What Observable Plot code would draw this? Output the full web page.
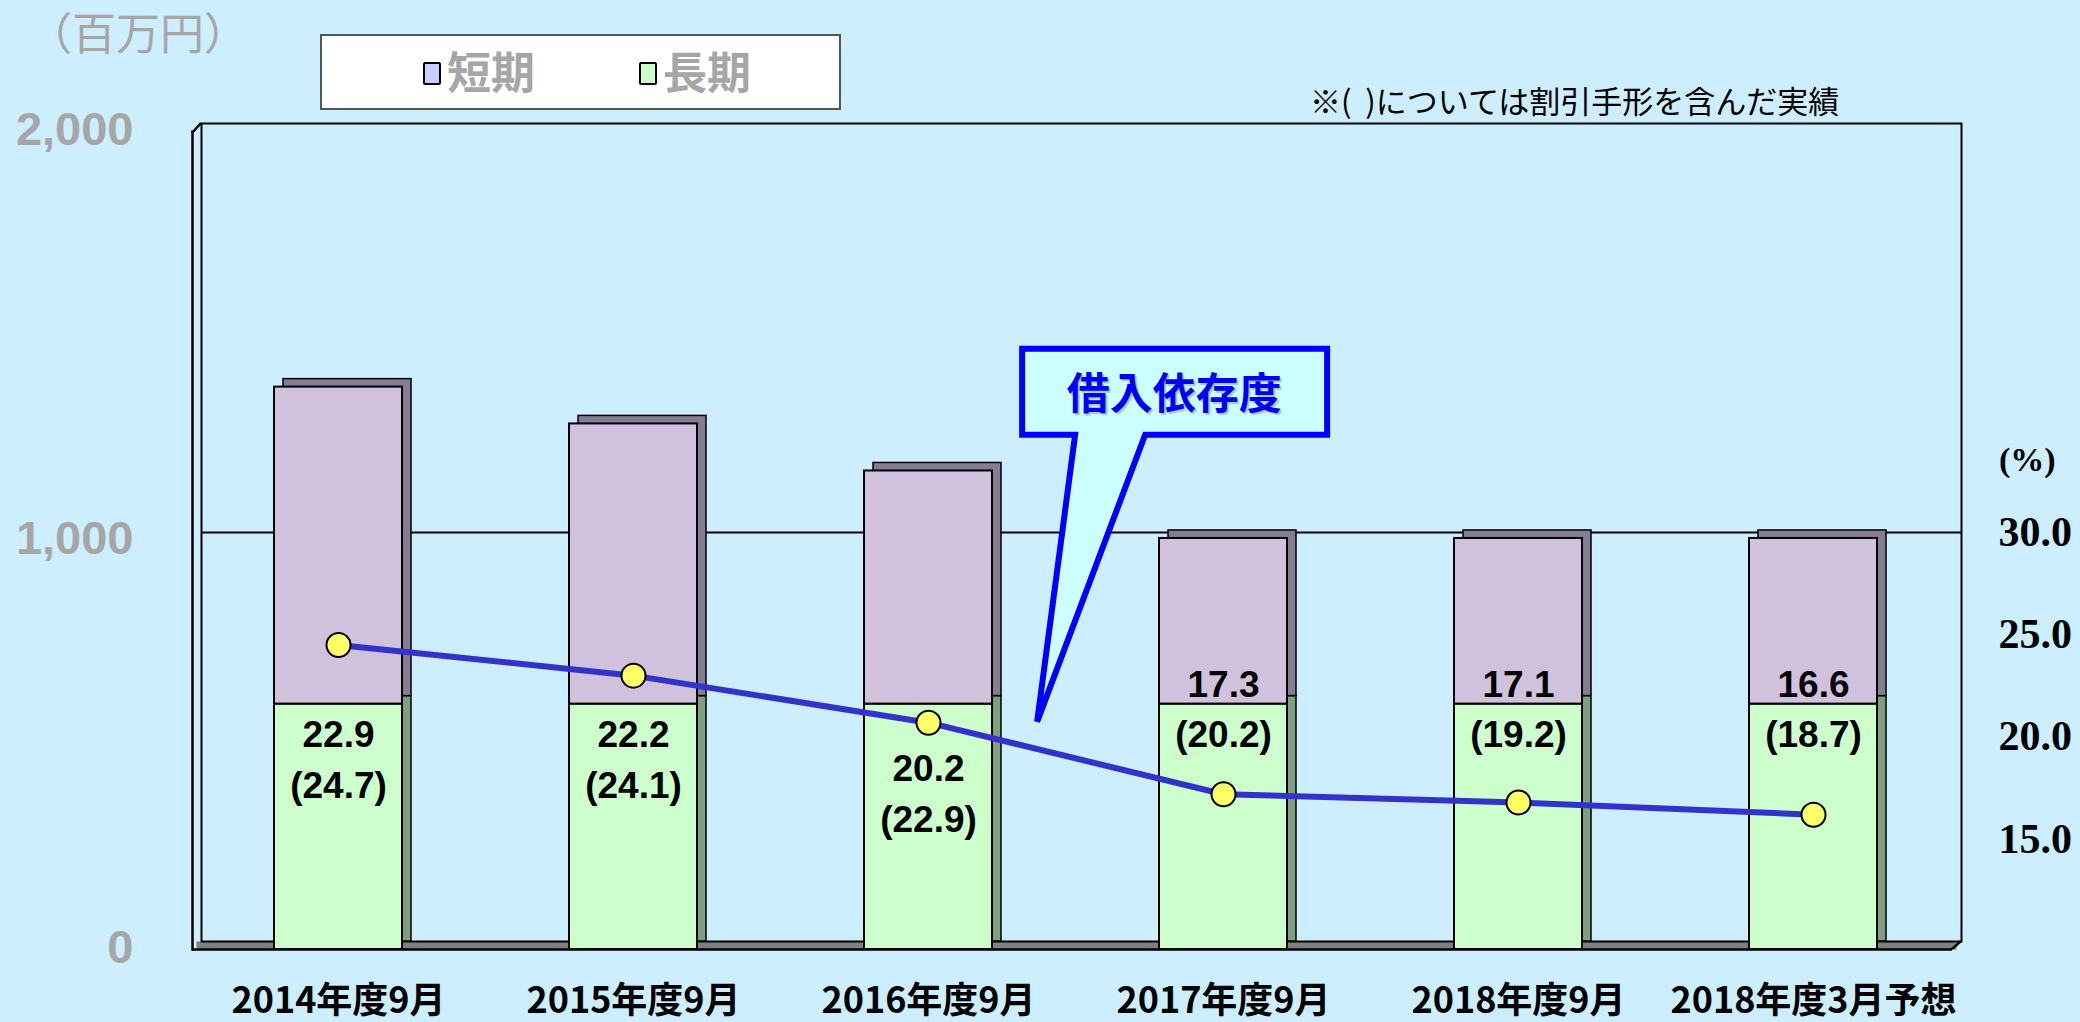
<!DOCTYPE html>
<html><head><meta charset="utf-8">
<script src="https://cdn.jsdelivr.net/npm/d3@7"></script>
<script src="https://cdn.jsdelivr.net/npm/@observablehq/plot@0.6"></script>
<style>
html,body{margin:0;padding:0;background:#cceeff;}
#wrap{position:relative;width:2080px;height:1022px;overflow:hidden;background:#cceeff;}
#wrap svg{position:absolute;left:0;top:0;}
.abs{position:absolute;white-space:nowrap;line-height:1;}
</style></head><body><div id="wrap"></div>
<script>
// ---- data ----
const categories = ["2014年度9月","2015年度9月","2016年度9月","2017年度9月","2018年度9月","2018年度3月予想"];
const longTerm  = [600, 600, 600, 600, 600, 600];          // 長期 (百万円)
const shortTerm = [775, 685, 570, 405, 405, 405];          // 短期 (百万円)
const ratioLine = [24.5, 23.0, 20.7, 17.2, 16.8, 16.2];    // 借入依存度 line, read on right axis (%)
const ratioLabel = ["22.9","22.2","20.2","17.3","17.1","16.6"];
const ratioInclBills = ["(24.7)","(24.1)","(22.9)","(20.2)","(19.2)","(18.7)"];
const leftTicks = [0, 1000, 2000];
const rightTicks = [15, 20, 25, 30];
const seriesNames = ["短期","長期"];

// ---- helpers ----
const toLeft = p => (p - 10) * 50;   // right axis % -> left axis units (30% = 1000, 10% = 0)
const rows = categories.map((cat, i) => ({
  i, cat, long: longTerm[i], short: shortTerm[i], total: longTerm[i] + shortTerm[i],
  ratio: ratioLine[i], ratioText: ratioLabel[i], billsText: ratioInclBills[i]
}));
const D = {dx: 9, dy: -8}; // depth offset for pseudo-3D back plane
const lblFont = {fontFamily: "Liberation Sans", fontWeight: "bold", fontSize: 37, fill: "black"};

const chart = Plot.plot({
  width: 2080, height: 1022,
  marginLeft: 192, marginRight: 128, marginTop: 131, marginBottom: 73,
  style: {background: "transparent", overflow: "visible"},
  x: {domain: categories, paddingInner: 0.566, paddingOuter: 0.266, align: 0.52, axis: null},
  y: {domain: [0, 2000], axis: null},
  marks: [
    // floor
    Plot.ruleY([0], {stroke: "#808080", strokeWidth: 8, dy: -4, dx: 4.5}),
    // back wall
    Plot.frame({...D, stroke: "black", strokeWidth: 2}),
    Plot.gridY([1000], {...D, stroke: "black", strokeOpacity: 1, strokeWidth: 2}),
    // front left wall edge and floor front edge
    Plot.frame({anchor: "left", stroke: "black", strokeWidth: 2.5}),
    Plot.ruleY([0], {stroke: "black", strokeWidth: 2.5}),
    // bar depth faces
    Plot.barY(rows, {x: "cat", y1: 0, y2: "long", fill: "#7fa07f", stroke: "black", strokeWidth: 1.5, ...D}),
    Plot.barY(rows, {x: "cat", y1: "long", y2: "total", fill: "#857e92", stroke: "black", strokeWidth: 1.5, ...D}),
    // bar front faces
    Plot.barY(rows, {x: "cat", y1: 0, y2: "long", fill: "#ccffcc", stroke: "black", strokeWidth: 2}),
    Plot.barY(rows, {x: "cat", y1: "long", y2: "total", fill: "#d0c2dc", stroke: "black", strokeWidth: 2}),
    // ratio line
    Plot.line(rows, {x: "cat", y: d => toLeft(d.ratio), dy: -8, stroke: "#3333cc", strokeWidth: 6}),
    Plot.dot(rows, {x: "cat", y: d => toLeft(d.ratio), dy: -8, r: 12, fill: "#ffff66", stroke: "black", strokeWidth: 2}),
    // labels
    Plot.text(rows.filter(d => d.i < 2), {x: "cat", y: "long", text: "ratioText", dy: 31, ...lblFont}),
    Plot.text(rows.filter(d => d.i < 2), {x: "cat", y: "long", text: "billsText", dy: 82, ...lblFont}),
    Plot.text(rows.filter(d => d.i === 2), {x: "cat", y: "long", text: "ratioText", dy: 65, ...lblFont}),
    Plot.text(rows.filter(d => d.i === 2), {x: "cat", y: "long", text: "billsText", dy: 116, ...lblFont}),
    Plot.text(rows.filter(d => d.i > 2), {x: "cat", y: "long", text: "ratioText", dy: -19, ...lblFont}),
    Plot.text(rows.filter(d => d.i > 2), {x: "cat", y: "long", text: "billsText", dy: 31, ...lblFont}),
    // axes
    Plot.axisY(leftTicks, {anchor: "left", tickFormat: d3.format(","), tickSize: 0, tickPadding: 59,
      fontSize: 47, fontWeight: "bold", fontFamily: "Liberation Sans", color: "#a6a6a6", label: null, dy: -2}),
    Plot.axisY(rightTicks.map(toLeft), {anchor: "right", tickFormat: v => (10 + v / 50).toFixed(1), tickSize: 0, tickPadding: 46,
      fontSize: 42, fontWeight: "bold", fontFamily: "Liberation Serif", color: "black", label: null, dy: -8}),
    Plot.axisX({tickSize: 0, tickPadding: 38, fontSize: 36, fontWeight: "bold", fontFamily: "Noto Sans CJK JP",
      color: "black", label: null})
  ]
});
const wrap = document.getElementById("wrap");
wrap.appendChild(chart);

const xs = chart.scale("x"), ys = chart.scale("y");
const svg = d3.select(chart);

// ---- 3D frame corner edges ----
const [fx0, fx1] = xs.range, [fy0, fy1] = ys.range; // fy0 bottom, fy1 top
svg.append("path")
  .attr("d", `M${fx0},${fy1 + 2}L${fx0 + D.dx},${fy1 + D.dy}M${fx1},${fy0}L${fx1 + D.dx},${fy0 + D.dy}`)
  .attr("stroke", "black").attr("stroke-width", 2.5).attr("fill", "none");

// ---- callout "借入依存度" anchored to the line between 2016 and 2017 ----
const cx = i => xs.apply(categories[i]) + xs.bandwidth / 2;
const t = 0.37;
const tipX = cx(2) + t * (cx(3) - cx(2));
const tipY = (1 - t) * ys.apply(toLeft(ratioLine[2])) + t * ys.apply(toLeft(ratioLine[3])) - 8 - 27;
const pts = [[-15,-373],[290,-373],[290,-287],[108,-287],[0,0],[38,-287],[-15,-287]];
svg.append("path")
  .attr("d", "M" + pts.map(([a,b]) => [tipX + a, tipY + b].join(",")).join("L") + "Z")
  .attr("fill", "#ccffff").attr("stroke", "#0000ff").attr("stroke-width", 6).attr("stroke-linejoin", "miter");
const tg = svg.append("g").attr("font-family", "Noto Sans CJK JP").attr("font-weight", "bold")
  .attr("font-size", 43).attr("text-anchor", "middle").attr("dominant-baseline", "central");
tg.append("text").attr("x", tipX + 139).attr("y", tipY - 330).attr("fill", "#9aa").attr("opacity", 0.6).text("借入依存度");
tg.append("text").attr("x", tipX + 137).attr("y", tipY - 332).attr("fill", "#0000ff").text("借入依存度");

// ---- HTML annotations ----
function addDiv(html, css) { const d = document.createElement("div"); d.className = "abs"; d.innerHTML = html; Object.assign(d.style, css); wrap.appendChild(d); return d; }
addDiv("（百万円）", {left: "28px", top: "9px", fontFamily: "Noto Sans CJK JP", fontSize: "44px", color: "#a6a6a6"});
addDiv("※(&nbsp;&nbsp;)については割引手形を含んだ実績", {left: "1310px", top: "84px", fontFamily: "Noto Sans CJK JP", fontSize: "31px", color: "black"});
addDiv("(%)", {left: "1999px", top: "443px", fontFamily: "Liberation Serif", fontWeight: "bold", fontSize: "34px", color: "black"});
const legend = addDiv("", {left: "320px", top: "34px", width: "517px", height: "72px", background: "white", border: "2px solid #555"});
const legendColors = ["#ccccff", "#ccffcc"];
const legendX = [101, 317];
seriesNames.forEach((name, k) => {
  const sw = document.createElement("div");
  Object.assign(sw.style, {position: "absolute", left: legendX[k] + "px", top: "26px", width: "14px", height: "19px", background: legendColors[k], border: "2.5px solid black", borderRadius: "2px"});
  legend.appendChild(sw);
  const tx = document.createElement("div");
  tx.textContent = name;
  Object.assign(tx.style, {position: "absolute", left: (legendX[k] + 24) + "px", top: "12px", fontFamily: "Noto Sans CJK JP", fontWeight: "bold", fontSize: "44px", lineHeight: "1", color: "#a6a6a6"});
  legend.appendChild(tx);
});
</script></body></html>
